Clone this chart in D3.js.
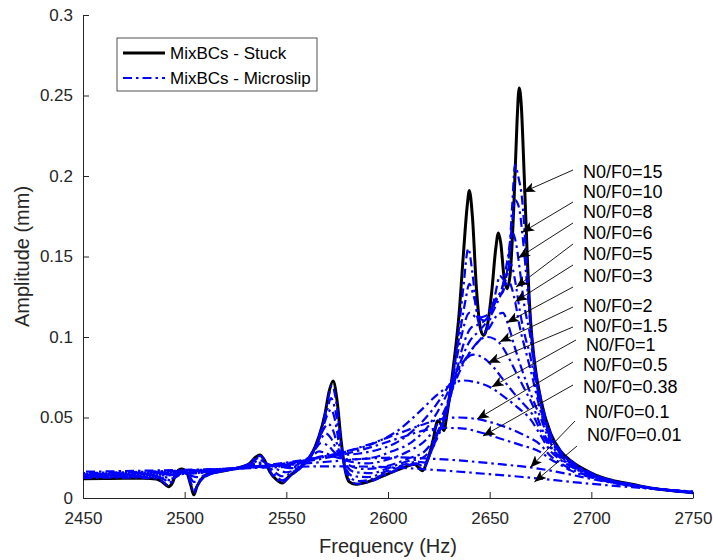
<!DOCTYPE html>
<html>
<head>
<meta charset="utf-8">
<script src="https://cdn.jsdelivr.net/npm/d3@7"></script>
<style>
  html, body { margin: 0; padding: 0; background: #fff; }
  svg { display: block; font-family: "Liberation Sans", Arial, sans-serif; }
  .axis path, .axis line { stroke: #262626; stroke-width: 1; }
  .axis text { fill: #262626; font-size: 17px; font-family: "Liberation Sans", Arial, sans-serif; }
</style>
</head>
<body>
<div id="chart"></div>
<script>
// Frequency response: stuck vs microslip for several N0/F0 ratios
// each series: [frequency (Hz), amplitude (mm)]

const stuck = [[2450,0.0120],[2460,0.0121],[2470,0.0122],[2480,0.0122],[2486,0.0118],[2489,0.0100],[2492,0.0070],[2494,0.0095],[2496,0.0160],[2498.5,0.0180],[2501,0.0160],[2503,0.0080],[2504.5,0.0020],[2506,0.0070],[2509,0.0130],[2513,0.0155],[2520,0.0170],[2527,0.0190],[2532,0.0215],[2535,0.0255],[2537,0.0267],[2539,0.0240],[2542,0.0160],[2545,0.0115],[2548,0.0093],[2551,0.0130],[2556,0.0180],[2562,0.0260],[2566,0.0380],[2569,0.0520],[2571,0.0660],[2573,0.0727],[2575,0.0600],[2577,0.0350],[2579,0.0170],[2581,0.0100],[2584,0.0085],[2590,0.0100],[2600,0.0150],[2608,0.0190],[2613,0.0210],[2617,0.0170],[2619,0.0220],[2622,0.0350],[2624.5,0.048],[2626,0.046],[2627.5,0.042],[2629,0.052],[2632,0.080],[2635,0.115],[2637,0.150],[2639,0.182],[2640,0.191],[2641.5,0.175],[2643.5,0.130],[2645.5,0.105],[2647,0.101],[2649,0.108],[2651,0.128],[2653,0.155],[2654.3,0.1646],[2655.5,0.158],[2657,0.138],[2658.5,0.130],[2660,0.138],[2662,0.185],[2663.5,0.235],[2664.5,0.2547],[2665.5,0.245],[2667,0.200],[2668.5,0.150],[2670,0.112],[2672,0.085],[2675,0.062],[2680,0.040],[2685,0.029],[2690,0.0230],[2700,0.0155],[2710,0.011],[2720,0.0085],[2730,0.006],[2740,0.0045],[2750,0.0033]];

const ms15 = [[2450,0.0125],[2470,0.0126],[2485,0.0122],[2489,0.0105],[2492,0.0078],[2495,0.0120],[2498.5,0.0175],[2501,0.0160],[2503,0.0090],[2504.5,0.0030],[2506,0.0075],[2509,0.0130],[2515,0.0160],[2525,0.0185],[2532,0.0215],[2535,0.0250],[2537,0.0262],[2539,0.0240],[2542,0.0165],[2545,0.0120],[2548,0.0095],[2552,0.0135],[2558,0.0200],[2563,0.0280],[2567,0.0420],[2570,0.0580],[2572.5,0.0700],[2574.5,0.0600],[2577,0.0340],[2579,0.0170],[2582,0.0100],[2585,0.0088],[2592,0.0105],[2600,0.0150],[2608,0.0190],[2613,0.0210],[2617,0.0180],[2620,0.0250],[2624,0.040],[2627,0.045],[2630,0.060],[2634,0.095],[2637,0.130],[2639.5,0.155],[2641.5,0.140],[2644,0.112],[2647,0.103],[2650,0.110],[2653,0.128],[2655,0.138],[2657.5,0.135],[2659,0.140],[2661,0.180],[2662.5,0.207],[2664,0.200],[2666,0.185],[2668,0.150],[2670,0.112],[2672,0.085],[2675,0.063],[2680,0.040],[2685,0.029],[2690,0.023],[2700,0.0155],[2710,0.011],[2720,0.0085],[2730,0.006],[2740,0.0045],[2750,0.0033]];

const ms10 = [[2450,0.0130],[2470,0.0131],[2485,0.0128],[2490,0.0115],[2492.5,0.0095],[2495,0.0125],[2498.5,0.0165],[2501,0.0150],[2503.5,0.0080],[2505,0.0055],[2507,0.0095],[2511,0.0140],[2518,0.0165],[2527,0.0190],[2533,0.0220],[2536.5,0.0250],[2539,0.0235],[2542,0.0180],[2545,0.0135],[2548,0.0110],[2552,0.0140],[2558,0.0200],[2563,0.0280],[2567,0.0400],[2570,0.0540],[2572,0.0620],[2574,0.0550],[2576.5,0.0350],[2579,0.0180],[2582,0.0120],[2586,0.0105],[2593,0.0120],[2600,0.0160],[2608,0.0200],[2614,0.0215],[2617.5,0.0195],[2621,0.0280],[2625,0.042],[2628,0.050],[2631,0.070],[2635,0.100],[2638,0.122],[2640,0.133],[2642,0.126],[2645,0.112],[2648,0.110],[2651,0.118],[2654,0.125],[2656.5,0.128],[2659,0.145],[2661,0.170],[2662.5,0.185],[2664.5,0.180],[2666,0.165],[2668,0.138],[2670,0.108],[2672,0.082],[2675,0.060],[2680,0.039],[2685,0.0285],[2690,0.0225],[2700,0.015],[2710,0.0108],[2720,0.0083],[2730,0.006],[2740,0.0045],[2750,0.0033]];

const ms8 = [[2450,0.0132],[2470,0.0133],[2485,0.0131],[2490,0.0122],[2493,0.0110],[2496,0.0135],[2499,0.0160],[2502,0.0145],[2504.5,0.0100],[2507,0.0110],[2512,0.0145],[2520,0.0170],[2528,0.0190],[2534,0.0220],[2537,0.0235],[2540,0.0215],[2544,0.0165],[2548,0.0135],[2553,0.0160],[2558,0.0210],[2563,0.0290],[2567,0.0400],[2570,0.0510],[2572,0.0550],[2574,0.0480],[2576,0.0330],[2579,0.0190],[2583,0.0135],[2590,0.0130],[2600,0.0170],[2610,0.0215],[2615,0.0225],[2618,0.0220],[2622,0.0310],[2627,0.048],[2632,0.075],[2636,0.100],[2640,0.115],[2644,0.112],[2648,0.113],[2652,0.122],[2656,0.130],[2659,0.150],[2661,0.165],[2663,0.158],[2665,0.140],[2667,0.120],[2670,0.100],[2672,0.080],[2675,0.058],[2680,0.038],[2685,0.028],[2690,0.022],[2700,0.015],[2710,0.0107],[2720,0.0082],[2730,0.006],[2740,0.0045],[2750,0.0033]];

const ms6 = [[2450,0.0135],[2470,0.0136],[2485,0.0135],[2491,0.0128],[2494,0.0122],[2497,0.0140],[2500,0.0155],[2503,0.0140],[2506,0.0130],[2512,0.0150],[2520,0.0172],[2528,0.0190],[2534,0.0212],[2538,0.0220],[2542,0.0205],[2546,0.0175],[2550,0.0160],[2556,0.0190],[2561,0.0250],[2565,0.0330],[2568,0.0420],[2570.5,0.0460],[2573,0.0420],[2575.5,0.0310],[2579,0.0210],[2584,0.0160],[2592,0.0155],[2600,0.0185],[2610,0.0230],[2617,0.0250],[2622,0.0320],[2628,0.050],[2633,0.075],[2637,0.095],[2641,0.106],[2645,0.108],[2649,0.112],[2653,0.122],[2656,0.130],[2658.5,0.140],[2660.5,0.145],[2662.5,0.135],[2665,0.115],[2667.5,0.100],[2670,0.088],[2672,0.075],[2675,0.056],[2680,0.037],[2685,0.0275],[2690,0.022],[2700,0.0148],[2710,0.0106],[2720,0.0082],[2730,0.006],[2740,0.0045],[2750,0.0034]];

const ms5 = [[2450,0.0138],[2470,0.0139],[2490,0.0140],[2500,0.0150],[2510,0.0158],[2520,0.0172],[2530,0.0192],[2538,0.0210],[2545,0.0200],[2552,0.0185],[2558,0.0210],[2563,0.0280],[2567,0.0370],[2569.5,0.0400],[2572,0.0370],[2575,0.0290],[2580,0.0210],[2588,0.0180],[2600,0.0200],[2610,0.0245],[2618,0.0290],[2624,0.040],[2630,0.060],[2635,0.082],[2640,0.097],[2645,0.104],[2650,0.112],[2654,0.122],[2657,0.130],[2659.5,0.134],[2662,0.125],[2665,0.105],[2668,0.090],[2671,0.075],[2675,0.054],[2680,0.036],[2685,0.027],[2690,0.0215],[2700,0.0145],[2710,0.0105],[2720,0.008],[2730,0.006],[2740,0.0045],[2750,0.0034]];

const ms3 = [[2450,0.0140],[2470,0.0142],[2490,0.0145],[2505,0.0155],[2520,0.0172],[2535,0.0195],[2545,0.0200],[2553,0.0200],[2559,0.0230],[2564,0.0300],[2567,0.0340],[2570,0.0330],[2574,0.0280],[2580,0.0230],[2590,0.0215],[2600,0.0240],[2610,0.0290],[2620,0.0380],[2628,0.055],[2634,0.075],[2640,0.090],[2645,0.098],[2650,0.106],[2654,0.114],[2656.5,0.115],[2659,0.108],[2662,0.095],[2665,0.083],[2668,0.072],[2671,0.062],[2675,0.050],[2680,0.034],[2685,0.026],[2690,0.021],[2700,0.0143],[2710,0.0104],[2720,0.008],[2730,0.006],[2740,0.0046],[2750,0.0035]];

const ms2 = [[2450,0.0142],[2470,0.0145],[2490,0.0150],[2510,0.0162],[2530,0.0185],[2545,0.0200],[2555,0.0210],[2562,0.0250],[2566,0.0290],[2569,0.0280],[2574,0.0255],[2582,0.0240],[2592,0.0250],[2602,0.0290],[2612,0.0350],[2620,0.045],[2628,0.062],[2634,0.078],[2640,0.090],[2645,0.098],[2649,0.100],[2652,0.099],[2655,0.096],[2659,0.088],[2663,0.078],[2667,0.068],[2671,0.058],[2675,0.045],[2680,0.032],[2685,0.025],[2690,0.0205],[2700,0.014],[2710,0.0103],[2720,0.0079],[2730,0.006],[2740,0.0046],[2750,0.0035]];

const ms1p5 = [[2450,0.0144],[2470,0.0147],[2490,0.0153],[2510,0.0166],[2530,0.0188],[2550,0.0215],[2562,0.0240],[2568,0.0260],[2575,0.0265],[2585,0.0275],[2595,0.0300],[2605,0.0350],[2615,0.0450],[2622,0.055],[2630,0.070],[2636,0.083],[2642,0.089],[2647,0.087],[2652,0.081],[2657,0.073],[2662,0.065],[2667,0.058],[2671,0.052],[2675,0.042],[2680,0.031],[2685,0.0245],[2690,0.020],[2700,0.0138],[2710,0.0102],[2720,0.0078],[2730,0.006],[2740,0.0046],[2750,0.0035]];

const ms1 = [[2450,0.0146],[2470,0.0150],[2490,0.0157],[2510,0.0170],[2530,0.0190],[2550,0.0220],[2565,0.0250],[2580,0.0290],[2595,0.0350],[2605,0.0420],[2615,0.0530],[2625,0.0650],[2632,0.0710],[2637,0.0730],[2643,0.0720],[2650,0.0690],[2657,0.0630],[2664,0.0560],[2670,0.0490],[2675,0.0390],[2680,0.029],[2685,0.0235],[2690,0.0195],[2700,0.0135],[2710,0.010],[2720,0.0077],[2730,0.006],[2740,0.0047],[2750,0.0036]];

const ms0p5 = [[2450,0.0148],[2470,0.0153],[2490,0.0160],[2510,0.0172],[2530,0.0190],[2550,0.0215],[2570,0.0260],[2590,0.0330],[2605,0.0400],[2618,0.0460],[2628,0.0495],[2635,0.0500],[2644,0.0490],[2652,0.0465],[2660,0.0430],[2667,0.0390],[2675,0.0330],[2680,0.026],[2685,0.0215],[2690,0.018],[2700,0.013],[2710,0.0098],[2720,0.0077],[2730,0.006],[2740,0.0047],[2750,0.0036]];

const ms0p38 = [[2450,0.0150],[2470,0.0155],[2490,0.0162],[2510,0.0173],[2530,0.0190],[2550,0.0210],[2570,0.0250],[2590,0.0310],[2605,0.0370],[2618,0.0420],[2628,0.0435],[2636,0.0433],[2646,0.0405],[2655,0.0370],[2665,0.0330],[2675,0.0285],[2680,0.024],[2685,0.0205],[2690,0.017],[2700,0.0127],[2710,0.0097],[2720,0.0076],[2730,0.006],[2740,0.0048],[2750,0.0037]];

const ms0p1 = [[2450,0.0155],[2470,0.0160],[2490,0.0167],[2510,0.0176],[2530,0.0188],[2550,0.0205],[2570,0.0225],[2590,0.0245],[2605,0.0252],[2620,0.0245],[2640,0.0228],[2655,0.0210],[2670,0.0190],[2680,0.0170],[2690,0.0145],[2700,0.0118],[2710,0.0095],[2720,0.0075],[2730,0.006],[2740,0.0049],[2750,0.0040]];

const ms0p01 = [[2450,0.0163],[2470,0.0167],[2490,0.0172],[2510,0.0178],[2530,0.0185],[2550,0.0192],[2570,0.0197],[2590,0.0195],[2610,0.0185],[2630,0.0168],[2650,0.0148],[2665,0.0132],[2675,0.0120],[2690,0.0100],[2700,0.0088],[2710,0.0077],[2720,0.0067],[2730,0.0057],[2740,0.0048],[2750,0.0040]];

const microslip = [ms15, ms10, ms8, ms6, ms5, ms3, ms2, ms1p5, ms1, ms0p5, ms0p38, ms0p1, ms0p01];

// annotation labels and where their arrows point (frequency, amplitude)
const ratioLabels = ['15', '10', '8', '6', '5', '3', '2', '1.5', '1', '0.5', '0.38', '0.1', '0.01'];
const tipFreq = [2666.5, 2666, 2664, 2663, 2662.6, 2658.5, 2655, 2649.2, 2651, 2643.8, 2646.7, 2670, 2672];
const tipAmp  = [0.190, 0.165, 0.149, 0.131, 0.122, 0.109, 0.097, 0.084, 0.069, 0.049, 0.0385, 0.019, 0.010];

const xTicks = [2450, 2500, 2550, 2600, 2650, 2700, 2750];
const yTicks = [0, 0.05, 0.1, 0.15, 0.2, 0.25, 0.3];
const yTickLabels = ['0', '0.05', '0.1', '0.15', '0.2', '0.25', '0.3'];

// label layout in pixels: text left x, text centre y, arrow tail y
const LABEL_POS = [
  [583, 172, 170], [583, 192, 202], [583, 212, 223], [583, 233, 244],
  [583, 254, 265], [583, 276, 287], [583, 306, 307], [583, 326, 327],
  [586, 345, 340], [583, 365, 362], [583, 387, 385], [585, 412, 421], [587, 435, 446]
];

const W = 713, H = 560;
const PLOT = { left: 83, right: 693, top: 15, bottom: 498 };

const svg = d3.select('#chart').append('svg')
  .attr('width', W)
  .attr('height', H);

const x = d3.scaleLinear().domain([2450, 2750]).range([PLOT.left, PLOT.right]);
const y = d3.scaleLinear().domain([0, 0.3]).range([PLOT.bottom, PLOT.top]);

// axes (MATLAB style, box off, ticks inward)
svg.append('g')
  .attr('class', 'axis')
  .attr('transform', `translate(0,${PLOT.bottom})`)
  .call(d3.axisBottom(x).tickValues(xTicks).tickFormat(d3.format('d')).tickSizeInner(-6).tickSizeOuter(0).tickPadding(14));

svg.append('g')
  .attr('class', 'axis')
  .attr('transform', `translate(${PLOT.left},0)`)
  .call(d3.axisLeft(y).tickValues(yTicks).tickFormat((d, i) => yTickLabels[i]).tickSizeInner(-6).tickSizeOuter(0).tickPadding(10));

svg.append('text')
  .attr('x', (PLOT.left + PLOT.right) / 2)
  .attr('y', 553)
  .attr('text-anchor', 'middle')
  .style('font-size', '20px')
  .style('fill', '#262626')
  .text('Frequency (Hz)');

svg.append('text')
  .attr('transform', `translate(29,${(PLOT.top + PLOT.bottom) / 2}) rotate(-90)`)
  .attr('text-anchor', 'middle')
  .style('font-size', '20px')
  .style('fill', '#262626')
  .text('Amplitude (mm)');

const line = d3.line()
  .x(d => x(d[0]))
  .y(d => y(d[1]))
  .curve(d3.curveMonotoneX);

const DASH = '9,4,2.5,4';

const g = svg.append('g');

g.append('path')
  .datum(stuck)
  .attr('d', line)
  .attr('fill', 'none')
  .attr('stroke', '#000')
  .attr('stroke-width', 3)
  .attr('stroke-linejoin', 'round');

g.selectAll('.ms')
  .data(microslip)
  .join('path')
    .attr('class', 'ms')
    .attr('d', line)
    .attr('fill', 'none')
    .attr('stroke', '#0000ff')
    .attr('stroke-width', 2.2)
    .attr('stroke-dasharray', DASH)
    .attr('stroke-dashoffset', (d, i) => i * 3);

// arrow marker
svg.append('defs').append('marker')
  .attr('id', 'arrowhead')
  .attr('viewBox', '0 0 12 10')
  .attr('refX', 12)
  .attr('refY', 5)
  .attr('markerWidth', 12)
  .attr('markerHeight', 10)
  .attr('markerUnits', 'userSpaceOnUse')
  .attr('orient', 'auto')
  .append('path')
    .attr('d', 'M0,0 L12,5 L0,10 L3,5 Z')
    .attr('fill', '#000');

const ann = svg.append('g');
ratioLabels.forEach((lab, i) => {
  const [tx, ty, tailY] = LABEL_POS[i];
  ann.append('line')
    .attr('x1', tx - 10)
    .attr('y1', tailY)
    .attr('x2', x(tipFreq[i]))
    .attr('y2', y(tipAmp[i]))
    .attr('stroke', '#000')
    .attr('stroke-width', 0.9)
    .attr('marker-end', 'url(#arrowhead)');
  ann.append('text')
    .attr('x', tx)
    .attr('y', ty)
    .attr('dy', '0.36em')
    .style('font-size', '18px')
    .style('fill', '#000')
    .text('N0/F0=' + lab);
});

// legend
const leg = svg.append('g').attr('transform', 'translate(117,38)');
leg.append('rect')
  .attr('width', 200)
  .attr('height', 53)
  .attr('fill', '#fff')
  .attr('stroke', '#262626')
  .attr('stroke-width', 0.8);
const legItems = [
  { label: 'MixBCs - Stuck', color: '#000', width: 3, dash: null },
  { label: 'MixBCs - Microslip', color: '#0000ff', width: 2, dash: DASH }
];
legItems.forEach((it, i) => {
  const ly = 15 + i * 25;
  leg.append('line')
    .attr('x1', 6).attr('x2', 48)
    .attr('y1', ly).attr('y2', ly)
    .attr('stroke', it.color)
    .attr('stroke-width', it.width)
    .attr('stroke-dasharray', it.dash);
  leg.append('text')
    .attr('x', 53)
    .attr('y', ly)
    .attr('dy', '0.36em')
    .style('font-size', '17px')
    .style('fill', '#000')
    .text(it.label);
});
</script>
</body>
</html>
